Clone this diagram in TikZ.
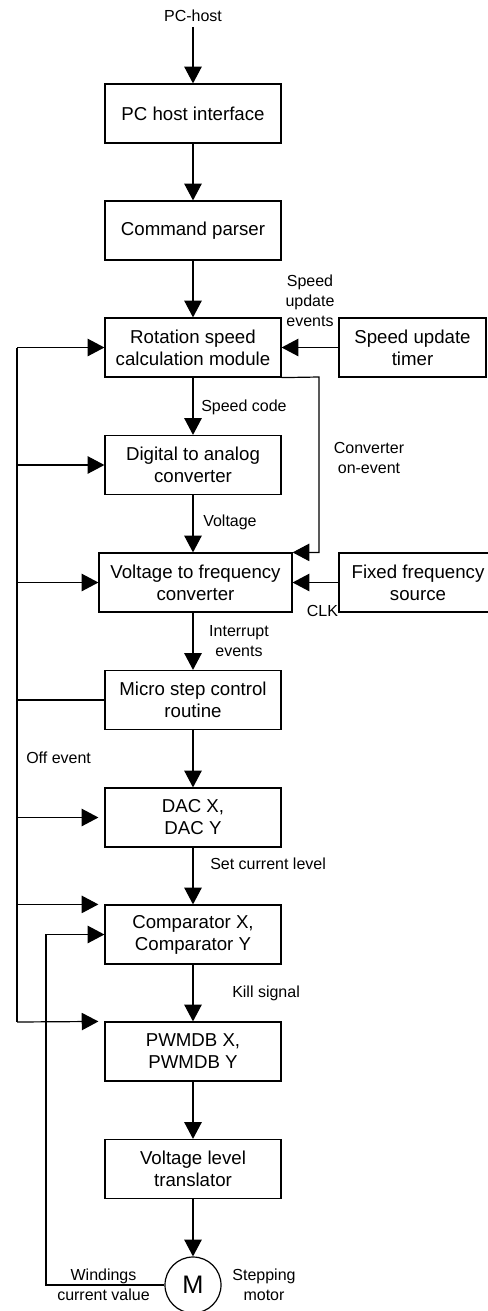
\documentclass[tikz,border=0pt]{standalone}
\usepackage{fontspec}
\setmainfont{Liberation Sans}
\usetikzlibrary{arrows.meta}
\tikzset{
  blk/.style={draw, line width=0.9pt, align=center, inner sep=0pt,
    font=\fontsize{14}{16.5}\selectfont,
    minimum width=132pt, minimum height=44.25pt},
  lbl/.style={font=\fontsize{12}{15}\selectfont, inner sep=0pt, align=center},
  arr/.style={-{Triangle[length=12.5pt,width=13pt]}, line width=0.9pt},
  wire/.style={line width=0.9pt},
  gap/.style={shorten >=4.5pt}
}
\begin{document}
\begin{tikzpicture}[x=0.75pt,y=-0.75pt]
\useasboundingbox (0,0) rectangle (487,1311);

% main processing chain
\node[lbl] (pchost) at (193,16) {PC-host};
\node[blk] (n1) at (193,113.5) {PC host interface};
\node[blk] (n2) at (193,230.5) {Command parser};
\node[blk] (n3) at (193,347.5) {Rotation speed\\calculation module};
\node[blk, minimum width=110.25pt] (timer) at (412.5,347.5) {Speed update\\timer};
\node[blk] (n4) at (193,465) {Digital to analog\\converter};
\node[blk, minimum width=144.75pt] (n5) at (195.5,582.5) {Voltage to frequency\\converter};
\node[blk, minimum width=118.5pt] (fixed) at (418,582.5) {Fixed frequency\\source};
\node[blk] (n6) at (193,700) {Micro step control\\routine};
\node[blk] (n7) at (193,817.5) {DAC X,\\DAC Y};
\node[blk] (n8) at (193,934.5) {Comparator X,\\Comparator Y};
\node[blk] (n9) at (193,1051.5) {PWMDB X,\\PWMDB Y};
\node[blk] (n10) at (193,1169) {Voltage level\\translator};
\node[draw, circle, line width=0.9pt, minimum size=42pt, inner sep=0pt,
      font=\fontsize{19}{19}\selectfont] (motor) at (193,1285) {M};

% vertical flow
\draw[arr, shorten <=3.5pt] (pchost) -- (n1);
\draw[arr] (n1) -- (n2);
\draw[arr] (n2) -- (n3);
\draw[arr] (n3) -- (n4);
\draw[arr] (n4) -- (n5.north -| n4.south);
\draw[arr] (n5.south -| n6.north) -- (n6);
\draw[arr] (n6) -- (n7);
\draw[arr] (n7) -- (n8);
\draw[arr] (n8) -- (n9);
\draw[arr] (n9) -- (n10);
\draw[arr] (n10) -- (motor);

% side inputs
\draw[arr] (timer) -- (n3);
\draw[arr] (fixed) -- (n5);
\coordinate (turn) at (319,377);
\draw[arr] (n3.south east) -- (turn) |- (n5.north east);

% off-event bus
\coordinate (busTop) at (17,347.5);
\coordinate (busBot) at (17,1022);
\draw[wire] (busTop) -- (busBot);
\draw[arr] (busTop) -- (n3.west);
\draw[arr] (busTop |- n4.west) -- (n4.west);
\draw[arr] (busTop |- n5.west) -- (n5.west);
\draw[wire] (n6.west) -- (busTop |- n6.west);
\draw[arr, gap] (busTop |- n7.west) -- (n7.west);
\draw[arr, gap] (busTop |- n8.north west) -- (n8.north west);
\draw[arr, gap] (busBot) -- (n9.north west);

% winding current feedback
\coordinate (wind) at (46,1285);
\draw[arr] (motor.west) -- (wind) |- (n8.west);

% labels
\node[lbl] at (310,301) {Speed\\update\\events};
\node[lbl, anchor=west] at (201,407) {Speed code};
\node[lbl] at (369,458) {Converter\\on-event};
\node[lbl, anchor=west] at (203,522) {Voltage};
\node[lbl] at (322.5,611) {CLK};
\node[lbl] at (239,641) {Interrupt\\events};
\node[lbl, anchor=west] at (26,758) {Off event};
\node[lbl, anchor=west] at (210,864) {Set current level};
\node[lbl, anchor=west] at (232,993) {Kill signal};
\node[lbl] at (103.5,1285) {Windings\\current value};
\node[lbl] at (264,1285) {Stepping\\motor};
\end{tikzpicture}
\end{document}
